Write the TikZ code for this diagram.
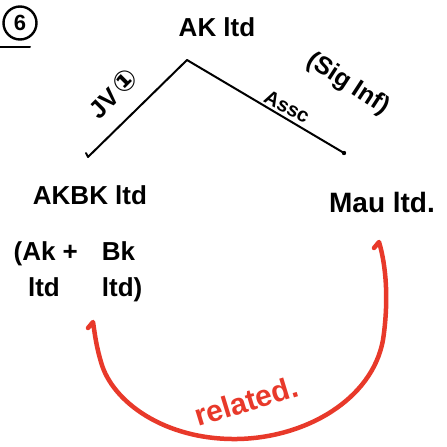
\documentclass[tikz,border=0pt]{standalone}
\usepackage{fontspec}
\setmainfont{Liberation Sans}
\newfontfamily\symfont{DejaVu Sans}
\usetikzlibrary{calc}
\definecolor{redink}{HTML}{E8392A}
\tikzset{
  hand/.style={font=\fontsize{26}{30}\selectfont\bfseries, inner sep=0pt, text=black},
  handlabel/.style={font=\fontsize{25}{27}\selectfont\bfseries, inner sep=0pt, text=black},
  ink/.style={line width=2pt, draw=black, line cap=round, line join=round},
  redline/.style={line width=4.5pt, draw=redink, line cap=round, line join=round},
}
\begin{document}
\begin{tikzpicture}[x=1pt,y=-1pt]
\useasboundingbox (0,0) rectangle (447,447);
% question number
\node[ink, line width=2.4pt, circle, minimum size=33pt, inner sep=0pt, font=\fontsize{22}{24}\selectfont\bfseries] (qnum) at (20,23) {6};
\coordinate (ul1) at (0,47);
\coordinate (ul2) at (30,47);
\draw[ink] (ul1) -- (ul2);
% top entity
\node[hand] (ak) at (217,27) {AK ltd};
% connectors
\coordinate (apex) at (187,60);
\coordinate (lend) at (88,157);
\coordinate (rend) at (344,153);
\draw[ink] (apex) -- (lend) -- ++(-2,-4);
\draw[ink] (apex) -- (rend);
\fill (rend) circle (2.2pt);
% labels on connectors
\node[handlabel, rotate=45] (jv) at (113,93) {JV\,{\symfont\fontsize{28}{28}\selectfont ①}};
\node[handlabel, rotate=-33] (sig) at (348,84) {(Sig Inf)};
\node[handlabel, font=\fontsize{20}{22}\selectfont\bfseries, rotate=-28] (assc) at (287,107) {Assc};
% bottom entities
\node[hand] (akbk) at (90,195) {AKBK ltd};
\node[hand, font=\fontsize{28}{30}\selectfont\bfseries] (mau) at (382,202) {Mau ltd.};
\node[hand, align=left] (parts) at (78,272) {%
  \begin{tabular}{@{}l@{\hspace{24pt}}l@{}}(Ak + & Bk\\[6pt] \ \ ltd & ltd)\end{tabular}};
% related curve
\coordinate (rs) at (379,242);
\coordinate (re) at (93,322);
\draw[redline] ($(rs)+(-5,6)$) -- (rs)
  .. controls (386,265) and (389,300) .. (383,340)
  .. controls (372,400) and (305,438) .. (237,439)
  .. controls (165,440) and (112,402) .. (101,362)
  .. controls (96,345) and (95,335) .. (re) -- ++(-5,6);
\node[font=\fontsize{30}{32}\selectfont\bfseries, text=redink, rotate=17, inner sep=0pt] (rel) at (246,401) {related.};
\end{tikzpicture}
\end{document}
